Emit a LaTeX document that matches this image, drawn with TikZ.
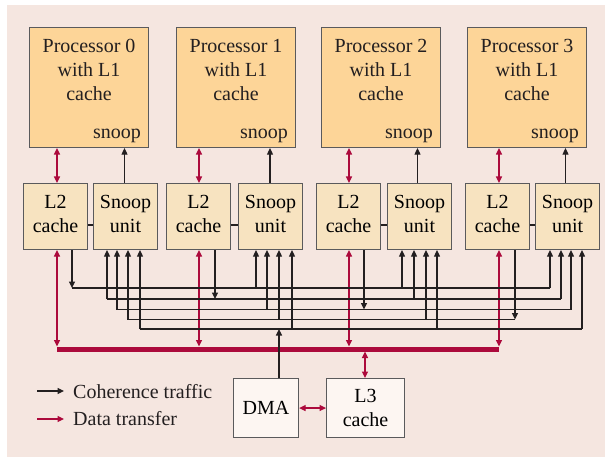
\documentclass[tikz,border=0pt]{standalone}
\usepackage{fontspec}
\setmainfont{Liberation Serif}
\usetikzlibrary{arrows.meta}

\definecolor{bgpink}{HTML}{F5E6E0}
\definecolor{procfill}{HTML}{FDD598}
\definecolor{unitfill}{HTML}{F7E3C0}
\definecolor{lightfill}{HTML}{FDF6F2}
\definecolor{datared}{HTML}{AC0A3C}
\definecolor{edgegray}{HTML}{5A5A5C}
\definecolor{ink}{HTML}{231F20}

% extra depth below the last line, so two-line unit labels sit a little higher
\newcommand\unitlift{\rule[-6pt]{0pt}{0pt}}

\tikzset{
  tip/.tip={Triangle[width=6pt,length=6.5pt]},
  boxbase/.style={draw=edgegray, line width=1.1pt, inner sep=0pt, anchor=north west, align=center},
  procbox/.style={boxbase, fill=procfill, minimum width=119pt, minimum height=120pt},
  unitbox/.style={boxbase, fill=unitfill, minimum width=64pt, minimum height=66pt},
  ioxbox/.style={boxbase, fill=lightfill, minimum height=59pt},
  wire/.style={draw=ink, line width=1.1pt},
  coh/.style={wire, -tip},
  data/.style={draw=datared, line width=1.2pt, tip-tip},
  datalegend/.style={draw=datared, line width=1.2pt, -tip},
  busline/.style={draw=datared, line width=5pt},
  txt/.style={inner sep=0pt, text=ink, align=center},
}

\begin{document}
\begin{tikzpicture}[x=1pt, y=-1pt, font=\fontsize{20}{24}\selectfont]
\useasboundingbox (0,0) rectangle (605,457);
\fill[bgpink] (7,5) rectangle (605,457);

% processors with their L1 caches
\foreach \i/\x in {0/29, 1/176, 2/321, 3/467} {
  \node[procbox] (P\i) at (\x,27) {};
  \node[txt, anchor=north] (P\i t) at ([yshift=-12pt]P\i.north) {Processor \i\\with L1\\cache};
  \node[txt, anchor=base east] (P\i s) at ([xshift=-8pt, yshift=9.5pt]P\i.south east) {snoop};
}

% L2 caches and snoop units
\foreach \i/\cx/\sx in {0/23/93, 1/166/238, 2/316/387, 3/465/535} {
  \node[unitbox] (C\i) at (\cx,183) {L2\\cache\unitlift};
  \node[unitbox] (S\i) at (\sx,183) {Snoop\\unit\unitlift};
  \coordinate (m\i) at (\cx,225);
  \draw[wire] (C\i.east |- m\i) -- (S\i.west |- m\i);
}

% processor <-> L2 data paths and snoop unit -> processor signals
\foreach \i/\rx/\bx in {0/57/124.5, 1/199/270, 2/349/417.5, 3/499/565.5} {
  \coordinate (r\i) at (\rx,0);
  \coordinate (b\i) at (\bx,0);
  \draw[data] (P\i.south -| r\i) -- (C\i.north -| r\i);
  \draw[coh] (S\i.north -| b\i) -- (P\i.south -| b\i);
}

% shared data bus
\coordinate (busL) at (57,349);
\coordinate (busR) at (499,349);
\draw[busline] (busL) -- (busR);
\foreach \i in {0,...,3}
  \draw[data, shorten >=2.5pt] (C\i.south -| r\i) -- (busL -| r\i);

% DMA and L3 cache
\node[ioxbox, minimum width=65pt] (DMA) at (233,378) {DMA};
\node[ioxbox, minimum width=78pt] (L3) at (326,378) {L3\\cache};
\draw[data] (DMA.east) -- (L3.west);
\coordinate (l3x) at (365,0);
\draw[data, shorten >=2.5pt] (L3.north -| l3x) -- (busL -| l3x);

% coherence lines, one per source
\foreach \k/\xa/\xb/\y in {1/72/550/288, 2/107/561/299, 3/117/571/309.5, 4/128/515/319.5, 5/140/582/329} {
  \coordinate (h\k a) at (\xa,\y);
  \coordinate (h\k b) at (\xb,\y);
  \draw[wire] (h\k a) -- (h\k b);
}

% each L2 cache drives its own coherence line
\foreach \i/\x/\k in {0/72/1, 1/215/2, 2/364/3, 3/515/4} {
  \coordinate (d\i) at (\x,0);
  \draw[coh] (C\i.south -| d\i) -- (h\k a -| d\i);
}

% the DMA drives the fifth line
\coordinate (dtap) at (279,329);
\draw[coh] (DMA.north -| dtap) -- (dtap);

% snoop units listen to every other source
\foreach \s/\x/\k in {1/256/1, 2/402/1, 3/550/1,
                       0/107/2, 2/414/2, 3/561/2,
                       0/117/3, 1/267/3, 3/571/3,
                       0/128/4, 1/279/4, 2/426/4,
                       0/140/5, 1/292/5, 2/437/5, 3/582/5} {
  \coordinate (tap) at (\x,0);
  \draw[coh] (h\k a -| tap) -- (S\s.south -| tap);
}

% legend
\coordinate (lg1a) at (37,391);
\coordinate (lg1b) at (64,391);
\coordinate (lg2a) at (37,419);
\coordinate (lg2b) at (64,419);
\draw[coh] (lg1a) -- (lg1b);
\draw[datalegend] (lg2a) -- (lg2b);
\node[txt, anchor=base west] (lgt1) at (73,398) {Coherence traffic};
\node[txt, anchor=base west] (lgt2) at (73,425.5) {Data transfer};
\end{tikzpicture}
\end{document}
